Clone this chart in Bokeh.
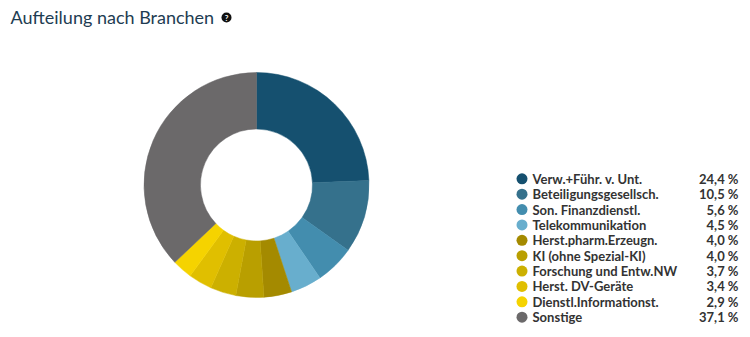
import numpy as np
from bokeh.plotting import figure
from bokeh.models import ColumnDataSource
from bokeh.core.properties import value
from bokeh.embed import file_html
from bokeh.resources import INLINE

title_text = "Aufteilung nach Branchen"
categories = ["Verw.+Führ. v. Unt.", "Beteiligungsgesellsch.", "Son. Finanzdienstl.",
              "Telekommunikation", "Herst.pharm.Erzeugn.", "KI (ohne Spezial-KI)",
              "Forschung und Entw.NW", "Herst. DV-Geräte", "Dienstl.Informationst.", "Sonstige"]
shares = [24.4, 10.5, 5.6, 4.5, 4.0, 4.0, 3.7, 3.4, 2.9, 37.1]
colors = ["#15506f", "#35718c", "#438dae", "#68aecd", "#a48a00", "#b99f00",
          "#ccb000", "#e0bf00", "#f5d300", "#6b696a"]

W, H = 750, 337
p = figure(width=W, height=H, x_range=(0, W), y_range=(0, H),
           output_backend="svg", toolbar_location=None, min_border=0)
p.axis.visible = False
p.grid.visible = False
p.outline_line_color = None
p.background_fill_color = "white"

# donut
total = sum(shares)
frac = np.array(shares) / total
cum = np.concatenate([[0], np.cumsum(frac)])
start = np.pi / 2 - cum[:-1] * 2 * np.pi
end = np.pi / 2 - cum[1:] * 2 * np.pi
cx, cy = 256, H - 184.5
src = ColumnDataSource(dict(start=start, end=end, color=colors))
p.annular_wedge(x=cx, y=cy, inner_radius=56, outer_radius=112.5,
                start_angle="start", end_angle="end", direction="clock",
                fill_color="color", line_color="color", line_width=0.5, source=src)

# title
p.text(x=[10], y=[H - 16], text=[title_text], text_font=value("Lato"),
       text_font_size="18px", text_color="#1e3c52", text_baseline="middle")
p.scatter(x=[226], y=[H - 17], size=10, fill_color="#111111", line_color=None)
p.text(x=[226], y=[H - 17], text=["?"], text_font=value("Lato"), text_font_style="bold",
       text_font_size="8px", text_color="white", text_align="center", text_baseline="middle")

# legend
n = len(categories)
ys = [H - (178.3 + i * 15.38) for i in range(n)]
labels = [f"{v:.1f}".replace(".", ",") + " %" for v in shares]
lsrc = ColumnDataSource(dict(y=ys, cat=categories, lab=labels, color=colors))
p.scatter(x=521.5, y="y", size=11, fill_color="color", line_color=None, source=lsrc)
p.text(x=532, y="y", text="cat", text_font=value("Lato"), text_font_size="13px",
       text_font_style="bold", text_color="#333333", text_baseline="middle", source=lsrc)
p.text(x=738, y="y", text="lab", text_font=value("Lato"), text_font_size="13px",
       text_font_style="bold", text_color="#333333", text_baseline="middle",
       text_align="right", source=lsrc)

open("out.html", "w").write(file_html(p, INLINE))
